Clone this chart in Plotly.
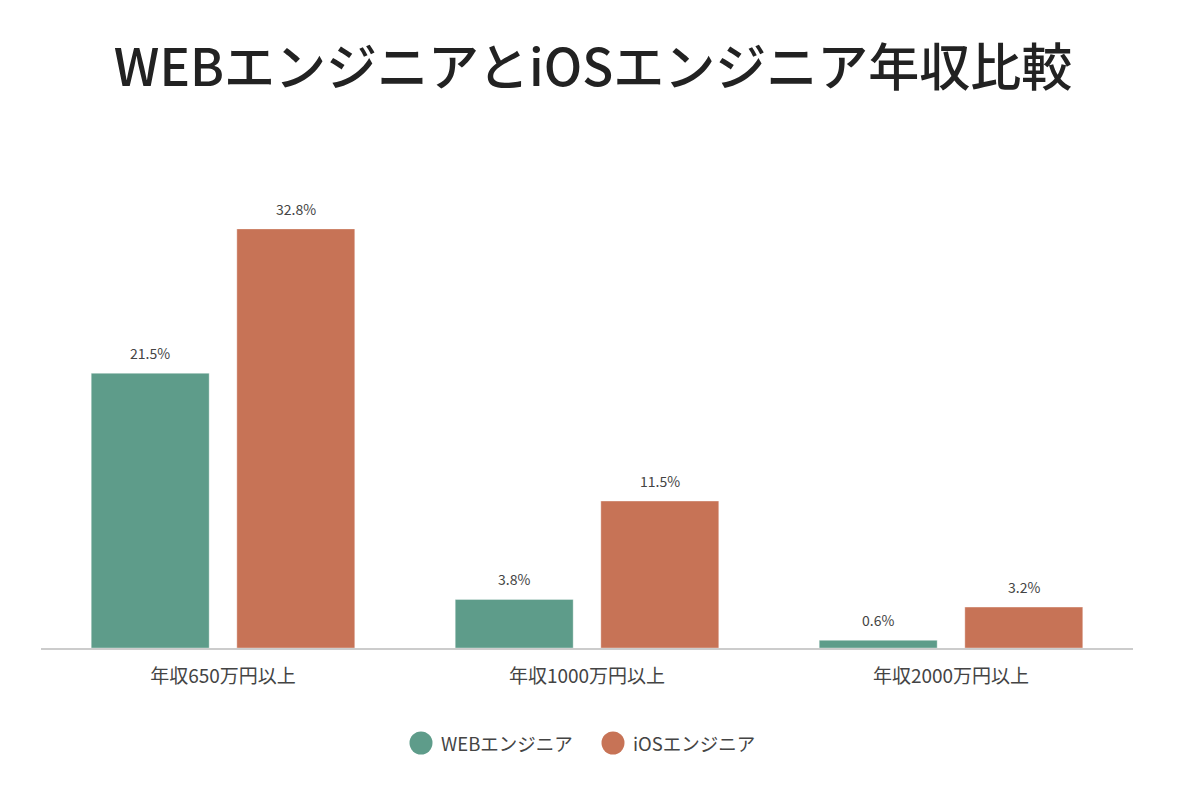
import plotly.graph_objects as go

categories = ["年収650万円以上", "年収1000万円以上", "年収2000万円以上"]
series_names = ["WEBエンジニア", "iOSエンジニア"]
web_values = [21.5, 3.8, 0.6]
ios_values = [32.8, 11.5, 3.2]
colors = ["#5e9c8a", "#c77356"]
title_text = "WEBエンジニアとiOSエンジニア年収比較"

FONT = "Noto Sans CJK JP"

# figure coordinates (page has an 8px body margin)
L, R_EDGE, BASE = 33, 1125, 640
PW = R_EDGE - L
PH = 460

fig = go.Figure()
for name, vals, col in zip(series_names, [web_values, ios_values], colors):
    fig.add_trace(go.Bar(
        x=categories, y=vals, name=name,
        marker=dict(color=col, line=dict(color="rgba(255,255,255,0.35)", width=1)),
        showlegend=False, hoverinfo="skip",
    ))

# value labels
offsets = [-73, 73]
annotations = []
for vals, dx in zip([web_values, ios_values], offsets):
    for c, v in zip(categories, vals):
        annotations.append(dict(
            x=c, y=v, xref="x", yref="y", text=f"{v}%", showarrow=False,
            xshift=dx, yshift=20, font=dict(family=FONT, size=14, color="#444444"),
        ))

# custom legend with circles
legend_y = -95 / PH
circle_x = [413, 605]
for name, col, cx in zip(series_names, colors, circle_x):
    fig.add_shape(type="circle", xref="paper", yref="paper",
                  x0=(cx - 11.5 - L) / PW, x1=(cx + 11.5 - L) / PW,
                  y0=legend_y - 11.5 / PH, y1=legend_y + 11.5 / PH,
                  fillcolor=col, line=dict(width=0))
    annotations.append(dict(
        x=(cx + 18 - L) / PW, y=legend_y, xref="paper", yref="paper",
        text=name, showarrow=False, xanchor="left", yanchor="middle",
        font=dict(family=FONT, size=18.5, color="#444444"),
    ))

fig.update_layout(
    width=1200, height=799,
    margin=dict(l=L, r=1200 - R_EDGE, t=BASE - PH, b=799 - BASE),
    paper_bgcolor="white", plot_bgcolor="white",
    barmode="group", bargap=0.2, bargroupgap=0.19,
    title=dict(text=title_text, x=(585 - 0) / 1200, xanchor="center", y=1 - 60 / 799, yanchor="middle",
               font=dict(family=FONT, size=51, color="#222222", weight=500)),
    xaxis=dict(showline=True, linecolor="#cccccc", linewidth=1.5, showgrid=False,
               tickfont=dict(family=FONT, size=19, color="#444444"),
               ticks="outside", ticklen=10, tickcolor="rgba(0,0,0,0)"),
    yaxis=dict(range=[0, 36], visible=False, showgrid=False, zeroline=False),
    annotations=annotations,
    font=dict(family=FONT),
)

fig.write_html("out.html")
